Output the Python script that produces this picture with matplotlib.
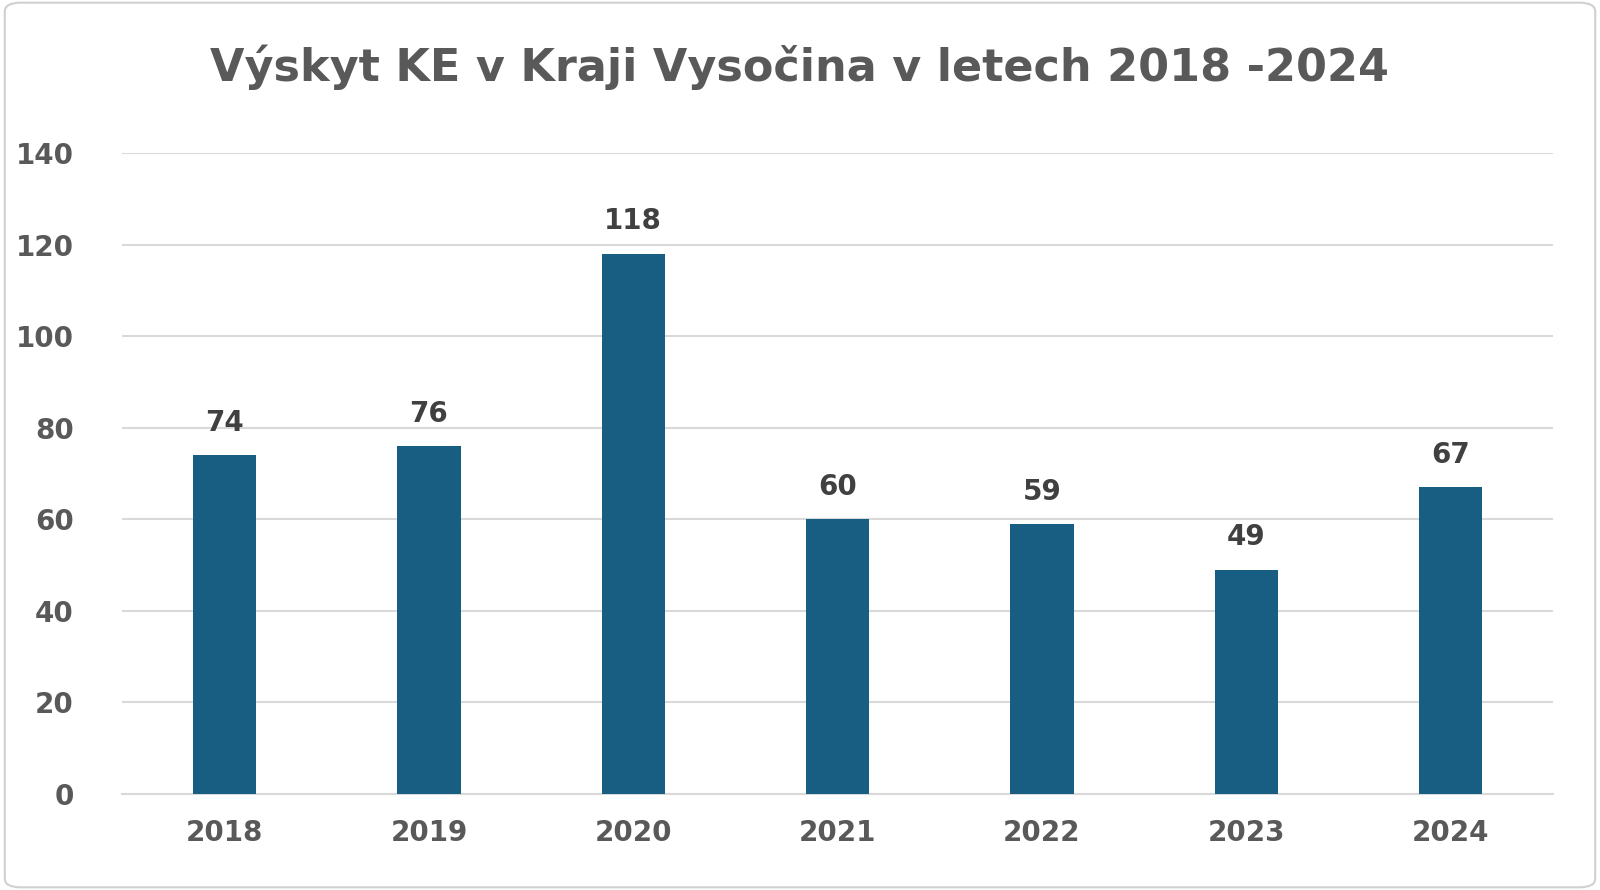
import matplotlib.pyplot as plt
from matplotlib.patches import FancyBboxPatch

years = ['2018', '2019', '2020', '2021', '2022', '2023', '2024']
counts = [74, 76, 118, 60, 59, 49, 67]
yticks = [0, 20, 40, 60, 80, 100, 120, 140]

fig = plt.figure(figsize=(16, 8.9), dpi=100)
fig.patches.append(FancyBboxPatch((0.003, 0.003), 0.994, 0.994, boxstyle='round,pad=0,rounding_size=0.01',
                                  transform=fig.transFigure, fill=False, edgecolor='#d0d0d0', linewidth=1.5))
ax = fig.add_axes([0.0765, 0.108, 0.894, 0.72])

x = range(len(years))
ax.bar(x, counts, width=0.31, color='#175E82', zorder=3)
for i, v in zip(x, counts):
    ax.text(i, v + 4, str(v), ha='center', va='bottom', fontsize=20, fontweight='bold', color='#404040')

ax.set_xlim(-0.5, 6.5)
ax.set_ylim(0, 140)
ax.set_yticks(yticks)
ax.set_xticks(list(x), years)
ax.grid(axis='y', color='#d9d9d9', linewidth=1.5, zorder=0)
for s in ['top', 'right', 'left']:
    ax.spines[s].set_visible(False)
ax.spines['bottom'].set_color('#d9d9d9')
ax.spines['bottom'].set_linewidth(1.5)
ax.tick_params(length=0, labelsize=20, labelcolor='#595959', pad=18)
ax.tick_params(axis='y', pad=35)
for lab in ax.get_xticklabels() + ax.get_yticklabels():
    lab.set_fontweight('bold')
for lab in ax.get_yticklabels():
    lab.set_horizontalalignment('right')

fig.text(0.5, 0.925, 'Výskyt KE v Kraji Vysočina v letech 2018 -2024', ha='center', va='center',
         fontsize=32, fontweight='bold', color='#595959')

fig.savefig('out.png', dpi=100)
